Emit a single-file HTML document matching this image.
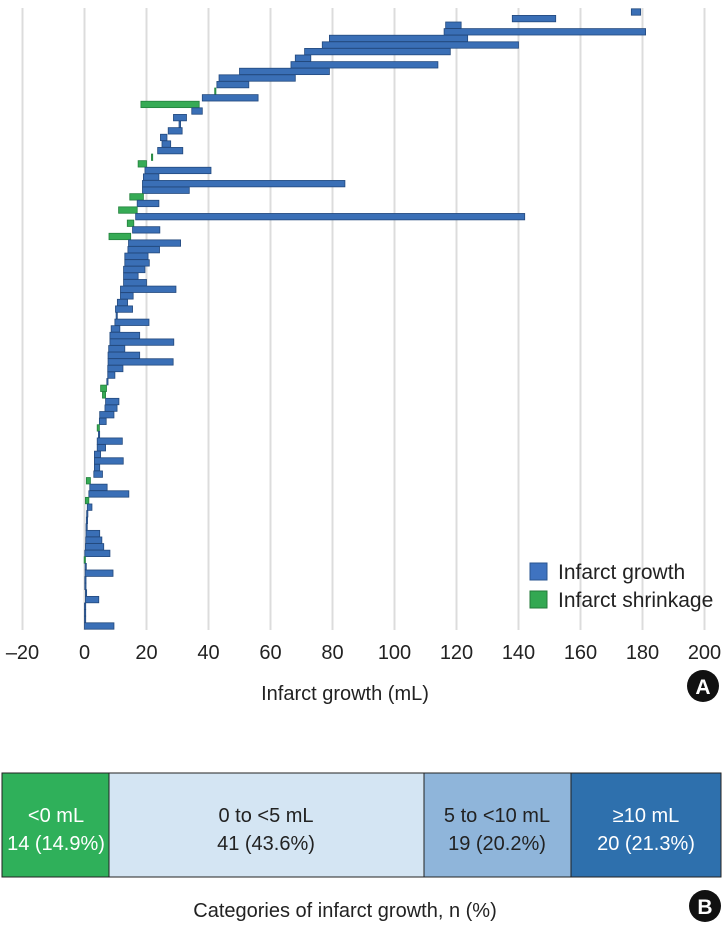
<!DOCTYPE html>
<html><head><meta charset="utf-8"><style>
html,body{margin:0;padding:0;background:#fff;}
body{width:723px;height:928px;overflow:hidden;position:relative;font-family:"Liberation Sans",sans-serif;}
svg{position:absolute;left:0;top:0;}
</style></head><body>
<svg width="723" height="928">
<g id="grid"></g>
<g id="bars"></g>
<g id="ticks"></g>
<text x="345" y="700" font-size="20" text-anchor="middle" fill="#222">Infarct growth (mL)</text>
<g><circle cx="703" cy="686" r="16" fill="#111"/><text x="703" y="694" font-size="21" font-weight="bold" text-anchor="middle" fill="#fff">A</text></g>
<g>
<g><rect x="530" y="563" width="17" height="17" fill="#3f73c0" stroke="#2a5591"/><text x="558" y="579" font-size="21" fill="#222">Infarct growth</text></g>
<g><rect x="530" y="591" width="17" height="17" fill="#33a852" stroke="#237a3a"/><text x="558" y="607" font-size="21" fill="#222">Infarct shrinkage</text></g>
</g>
<g>
<rect x="2" y="773" width="107" height="104" fill="#2fb05a" stroke="#222"/>
<rect x="109" y="773" width="315" height="104" fill="#d4e5f3" stroke="#222"/>
<rect x="424" y="773" width="147" height="104" fill="#8fb5da" stroke="#222"/>
<rect x="571" y="773" width="150" height="104" fill="#2e70ad" stroke="#222"/>
<g font-size="20" text-anchor="middle">
<text x="56" y="822" fill="#fff">&lt;0 mL</text><text x="56" y="850" fill="#fff">14 (14.9%)</text>
<text x="266" y="822" fill="#222">0 to &lt;5 mL</text><text x="266" y="850" fill="#222">41 (43.6%)</text>
<text x="497" y="822" fill="#222">5 to &lt;10 mL</text><text x="497" y="850" fill="#222">19 (20.2%)</text>
<text x="646" y="822" fill="#fff">≥10 mL</text><text x="646" y="850" fill="#fff">20 (21.3%)</text>
</g>
</g>
<text x="345" y="917" font-size="20" text-anchor="middle" fill="#222">Categories of infarct growth, n (%)</text>
<g><circle cx="705" cy="906" r="16" fill="#111"/><text x="705" y="914" font-size="21" font-weight="bold" text-anchor="middle" fill="#fff">B</text></g>
</svg>
<script>
const tickValues=[-20,0,20,40,60,80,100,120,140,160,180,200];
const startVol=[176.4,138,116.5,116,79,76.7,71,68,66.6,50,43.4,42.7,42.2,38,37,34.6,28.7,30.5,27,24.5,25,23.6,22,20,19.5,19,18.7,18.7,19,17,17,16.5,15.9,15.5,14.9,14.2,14,13,13,12.6,12.6,12.6,11.6,11.6,10.6,10,10.2,9.8,8.6,8.2,8.2,7.8,7.6,7.6,7.5,7.5,7.2,7.1,6.8,6.8,6.6,4.9,4.8,4.8,4.5,4.1,4.1,3.2,3.2,3.2,3,1.9,1.7,1.4,1.4,0.9,0.7,0.6,0.5,0.5,0.4,0.3,0.1,0.3,0.2,0.2,0.1,0.1,0.3,0.3,0,0,0,0];
const endVol=[179.4,152,121.5,181,123.6,140,118,73,114,79,68,53,42,56,18.2,38,32.9,31,31.5,26.6,27.8,31.7,21.6,17.3,40.8,24,84,33.8,14.6,24,11,142,13.8,24.3,7.9,31,24.2,20.5,20.9,19.5,17.3,20,29.5,15.7,13.9,15.5,10.5,20.8,11.4,17.8,28.8,13,17.8,28.6,12.4,9.8,7.5,5.2,5.8,11.1,10.5,9.5,7,4.1,4.8,12.2,6.8,5.2,12.5,4.9,5.8,0.6,7.3,14.3,0.3,2.4,1.0,0.8,0.7,4.9,5.6,6.2,8.2,-0.1,0.5,9.2,0.3,0.3,0.6,4.6,0.2,0.2,0.2,9.5];
const NS='http://www.w3.org/2000/svg';
const xs=v=>84.5+3.1*v;
const ys=i=>12+i*(626-12)/(startVol.length-1);
const grid=document.getElementById('grid'),ticks=document.getElementById('ticks'),bars=document.getElementById('bars');
tickValues.forEach(t=>{
  const l=document.createElementNS(NS,'line');
  l.setAttribute('x1',xs(t));l.setAttribute('x2',xs(t));l.setAttribute('y1',8);l.setAttribute('y2',630);
  l.setAttribute('stroke','#dcdcdc');l.setAttribute('stroke-width','2');
  
  
  grid.appendChild(l);
  const tx=document.createElementNS(NS,'text');
  tx.setAttribute('x',xs(t));tx.setAttribute('y',659);tx.setAttribute('font-size','20');
  tx.setAttribute('text-anchor','middle');tx.setAttribute('fill','#222');
  tx.textContent=t<0?'\u2013'+Math.abs(t):String(t);
  
  
  ticks.appendChild(tx);
});
startVol.forEach((s,i)=>{
  const e=endVol[i],grow=e>=s;
  const x1=xs(Math.min(s,e)),x2=xs(Math.max(s,e));
  const r=document.createElementNS(NS,'rect');
  r.setAttribute('x',x1);r.setAttribute('y',ys(i)-3.2);
  r.setAttribute('width',Math.max(1.2,x2-x1));r.setAttribute('height',6.4);
  r.setAttribute('fill',grow?'#3a6fb6':'#36ab55');
  r.setAttribute('stroke',grow?'#23497d':'#23813d');r.setAttribute('stroke-width','0.8');
  
  
  bars.appendChild(r);
});
</script>
</body></html>
